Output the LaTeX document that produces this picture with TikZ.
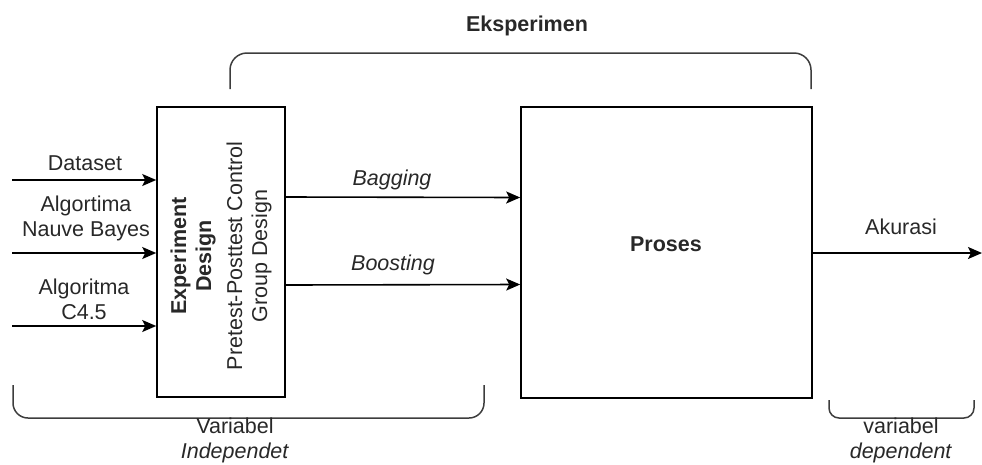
\documentclass[tikz,border=0pt]{standalone}
\usepackage{fontspec}
\setmainfont{Liberation Sans}
\usetikzlibrary{arrows.meta,positioning}

\definecolor{tinta}{RGB}{40,40,40}

\tikzset{
  blok/.style={draw=black, line width=1.6pt, inner sep=0pt},
  alir/.style={line width=1.6pt, -{Stealth[length=14pt,width=12pt,inset=3pt]}},
  kurung/.style={draw=tinta!90, line width=1.5pt},
  teks/.style={font=\fontsize{21.5}{25}\selectfont, align=center, text=tinta, inner sep=0pt}
}

\begin{document}
\begin{tikzpicture}[x=1pt, y=-1pt]
            \useasboundingbox (0,0) rectangle (982,464);

            \node[blok, minimum width=128pt, minimum height=290pt] (design) at (221,252) {};
            \node[blok, minimum width=291pt, minimum height=291pt] (proses) at (666.5,252.5) {};
            \node[teks, rotate=90] (designtxt) at (221,256) {\textbf{Experiment}\\\textbf{Design}\\[6pt]Pretest-Posttest Control\\Group Design};
            \node[teks, font=\fontsize{21.5}{25}\selectfont\bfseries] (prosestxt) at (666,244) {Proses};

            \coordinate (in1) at (12,180);
            \coordinate (in2) at (12,253);
            \coordinate (in3) at (12,326);
            \coordinate (out) at (982,253);

            \draw[alir] (in1) -- (in1 -| design.west);
            \draw[alir] (in2) -- (in2 -| design.west);
            \draw[alir] (in3) -- (in3 -| design.west);
            \draw[alir] ([yshift=55pt]design.east) -- ([yshift=55pt]proses.west);
            \draw[alir] ([yshift=-33pt]design.east) -- ([yshift=-32pt]proses.west);
            \draw[alir] (proses.east |- out) -- (out);

            \node[teks] (dataset) at (85,163) {Dataset};
            \node[teks] (nb) at (86,218) {Algortima\\Nauve Bayes};
            \node[teks] (c45) at (84,299) {Algoritma\\C4.5};
            \node[teks, font=\fontsize{21.5}{25}\selectfont\itshape] (bagging) at (392,180) {Bagging};
            \node[teks, font=\fontsize{21.5}{25}\selectfont\itshape] (boosting) at (393,265) {Boosting};
            \node[teks] (akurasi) at (901,227) {Akurasi};

            \draw[kurung, rounded corners=17pt] (230,89) -- (230,53) -- (811,53) -- (811,89);
            \draw[kurung, rounded corners=15pt] (13,385) -- (13,418) -- (484,418) -- (484,385);
            \draw[kurung, rounded corners=10pt] (829,400) -- (829,418) -- (974,418) -- (974,400);

            \node[teks, font=\fontsize{21.5}{25}\selectfont\bfseries] (eksperimen) at (527,26) {Eksperimen};
            \node[teks] (indep) at (235,440) {Variabel\\\textit{Independet}};
            \node[teks] (dep) at (901,440) {variabel\\\textit{dependent}};
        \end{tikzpicture}
\end{document}
